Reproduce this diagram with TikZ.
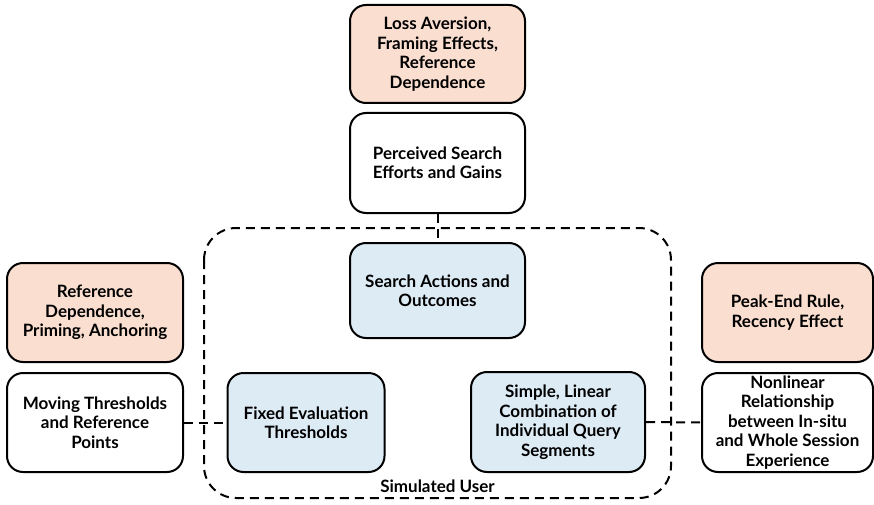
\documentclass[tikz,border=0pt]{standalone}
\usepackage{fontspec}
\setmainfont{Lato}
\definecolor{peach}{RGB}{250,222,208}
\definecolor{lblue}{RGB}{221,235,245}
\begin{document}
\begin{tikzpicture}[x=1pt,y=-1pt,
  bx/.style={draw=black, line width=2pt, rounded corners=16pt, align=center,
    font=\fontsize{17}{19.5}\selectfont\bfseries, inner sep=0pt},
  conn/.style={line width=2pt, dash pattern=on 9pt off 6pt}]
\useasboundingbox (0,0) rectangle (874,505);
% dashed group
\draw[conn, rounded corners=32pt] (204,228) rectangle (671,498);
\node[bx, fill=peach, minimum width=175pt, minimum height=98pt] (top) at (437.5,54) {Loss Aversion,\\Framing Effects,\\Reference\\Dependence};
\node[bx, fill=white, minimum width=175pt, minimum height=100pt] (perc) at (437.5,163) {Perceived Search\\Efforts and Gains};
\node[bx, fill=lblue, minimum width=175pt, minimum height=95pt] (act) at (437.5,290.5) {Search Actions and\\Outcomes};
\node[bx, fill=lblue, minimum width=157pt, minimum height=99pt] (fix) at (306,422.5) {Fixed Evaluation\\Thresholds};
\node[bx, fill=lblue, minimum width=174pt, minimum height=100pt] (lin) at (558,422) {Simple, Linear\\Combination of\\Individual Query\\Segments};
\node[bx, fill=peach, minimum width=176pt, minimum height=99pt] (lp) at (95,312.5) {Reference\\Dependence,\\Priming, Anchoring};
\node[bx, fill=white, minimum width=176pt, minimum height=99pt] (lw) at (95,422.5) {Moving Thresholds\\and Reference\\Points};
\node[bx, fill=peach, minimum width=171pt, minimum height=99pt] (rp) at (787.5,312.5) {Peak-End Rule,\\Recency Effect};
\node[bx, fill=white, minimum width=171pt, minimum height=99pt] (rw) at (787.5,422.5) {Nonlinear\\Relationship\\between In-situ\\and Whole Session\\Experience};
\node[font=\fontsize{17}{19.5}\selectfont\bfseries] (lab) at (437.5,486) {Simulated User};
\draw[conn] (perc.south) -- (act.north);
\draw[conn] (lw.east) -- (fix.west);
\draw[conn] (lin.east) -- (rw.west);
\end{tikzpicture}
\end{document}
